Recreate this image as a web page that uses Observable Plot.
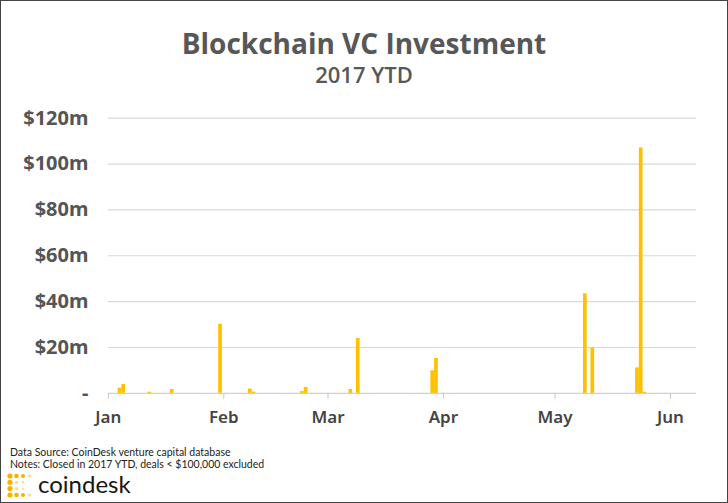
<!DOCTYPE html>
<html>
<head>
<meta charset="utf-8">
<script src="https://cdn.jsdelivr.net/npm/d3@7"></script>
<script src="https://cdn.jsdelivr.net/npm/@observablehq/plot@0.6"></script>
<style>
  html, body { margin: 0; padding: 0; background: #fff; }
  #wrap { position: relative; width: 726px; height: 501px; border: 1px solid #444; overflow: hidden; font-family: Lato, "Open Sans", sans-serif; }
  .t { position: absolute; left: 0; width: 726px; text-align: center; color: #575757; font-weight: 700; white-space: nowrap; font-family: "Open Sans", Lato, sans-serif; }
  #title { top: 28px; font-size: 28px; line-height: 28px; }
  #sub { top: 62px; font-size: 22px; line-height: 22px; font-weight: 600; }
  #chart { position: absolute; left: -1px; top: 94px; }
  .foot { position: absolute; left: 9px; font-size: 10.5px; line-height: 10.5px; color: #222; white-space: nowrap; }
  #f1 { top: 446px; }
  #f2 { top: 458px; }
  #logo { position: absolute; left: 6px; top: 472px; }
  #brand { position: absolute; left: 37px; top: 470px; font-size: 24px; line-height: 25px; color: #151515; font-weight: 400; }
</style>
</head>
<body>
<div id="wrap">
  <div class="t" id="title">Blockchain VC Investment</div>
  <div class="t" id="sub">2017 YTD</div>
  <div id="chart"></div>
  <div class="foot" id="f1">Data Source: CoinDesk venture capital database</div>
  <div class="foot" id="f2">Notes: Closed in 2017 YTD, deals &lt; $100,000 excluded</div>
  <svg id="logo" width="28" height="26" viewBox="0 0 28 26">
    <g fill="#f5b300">
      <circle cx="3" cy="3" r="2.6"/><circle cx="3" cy="9.3" r="2.6"/><circle cx="3" cy="15.6" r="2.6"/><circle cx="3" cy="22" r="2.6"/>
      <circle cx="9.5" cy="3" r="2.3"/><circle cx="16" cy="3" r="2"/>
      <circle cx="9.5" cy="22" r="2.3"/><circle cx="16" cy="22" r="2"/>
    </g>
    <g fill="#fbdc8c">
      <circle cx="9.5" cy="9.3" r="1.6"/><circle cx="9.5" cy="15.6" r="1.6"/>
      <circle cx="22.5" cy="3" r="1.5"/><circle cx="22.5" cy="22" r="1.5"/>
      <circle cx="16" cy="9.3" r="1.2"/><circle cx="16" cy="15.6" r="1.2"/>
    </g>
  </svg>
  <div id="brand">coindesk</div>
</div>
<script>
// Deal dates and amounts ($ millions)
const dealDates = ["2017-01-04","2017-01-05","2017-01-12","2017-01-18","2017-01-31",
  "2017-02-08","2017-02-09","2017-02-22","2017-02-23","2017-03-07","2017-03-09",
  "2017-03-29","2017-03-30","2017-05-09","2017-05-11","2017-05-23","2017-05-24","2017-05-25"];
const dealValues = [2.3, 3.9, 0.5, 1.7, 30.1, 1.9, 0.5, 0.8, 2.6, 1.7, 23.9,
  9.8, 15.2, 43.4, 19.8, 11.1, 107, 0.5];
const monthTicks = ["2017-01-01","2017-02-01","2017-03-01","2017-04-01","2017-05-01","2017-06-01"];
const yTicks = [0, 20, 40, 60, 80, 100, 120];
const xDomain = ["2017-01-01", "2017-06-08"];

const data = dealDates.map((d, i) => ({date: new Date(d), value: dealValues[i]}));

const chart = Plot.plot({
  width: 728,
  height: 345,
  marginLeft: 108,
  marginRight: 31,
  marginTop: 22.7,
  marginBottom: 46.7,
  style: {background: "transparent", overflow: "visible"},
  x: {type: "utc", domain: xDomain.map(d => new Date(d))},
  y: {type: "linear", domain: [0, 120]},
  marks: [
    Plot.gridY(yTicks.filter(d => d > 0), {stroke: "#d9d9d9", strokeOpacity: 1, strokeWidth: 1.2}),
    Plot.ruleY([0], {stroke: "#d0d0d0", strokeWidth: 1.3}),
    Plot.axisX({
      ticks: monthTicks.map(d => new Date(d)),
      tickFormat: d3.utcFormat("%b"),
      tickSize: 6,
      tickPadding: 12,
      stroke: "#c8c8c8",
      fontSize: 17,
      fontWeight: 600,
      fill: "#444",
      label: null
    }),
    Plot.axisY({
      ticks: yTicks,
      tickFormat: d => d === 0 ? "-" : `$${d}m`,
      tickSize: 0,
      tickPadding: 20,
      fontSize: 20,
      fontWeight: 700,
      fill: "#555",
      label: null
    }),
    Plot.ruleX(data, {x: "date", y1: 0, y2: "value", stroke: "#FFC000", strokeWidth: 3.7})
  ]
});
document.getElementById("chart").appendChild(chart);
</script>
</body>
</html>
